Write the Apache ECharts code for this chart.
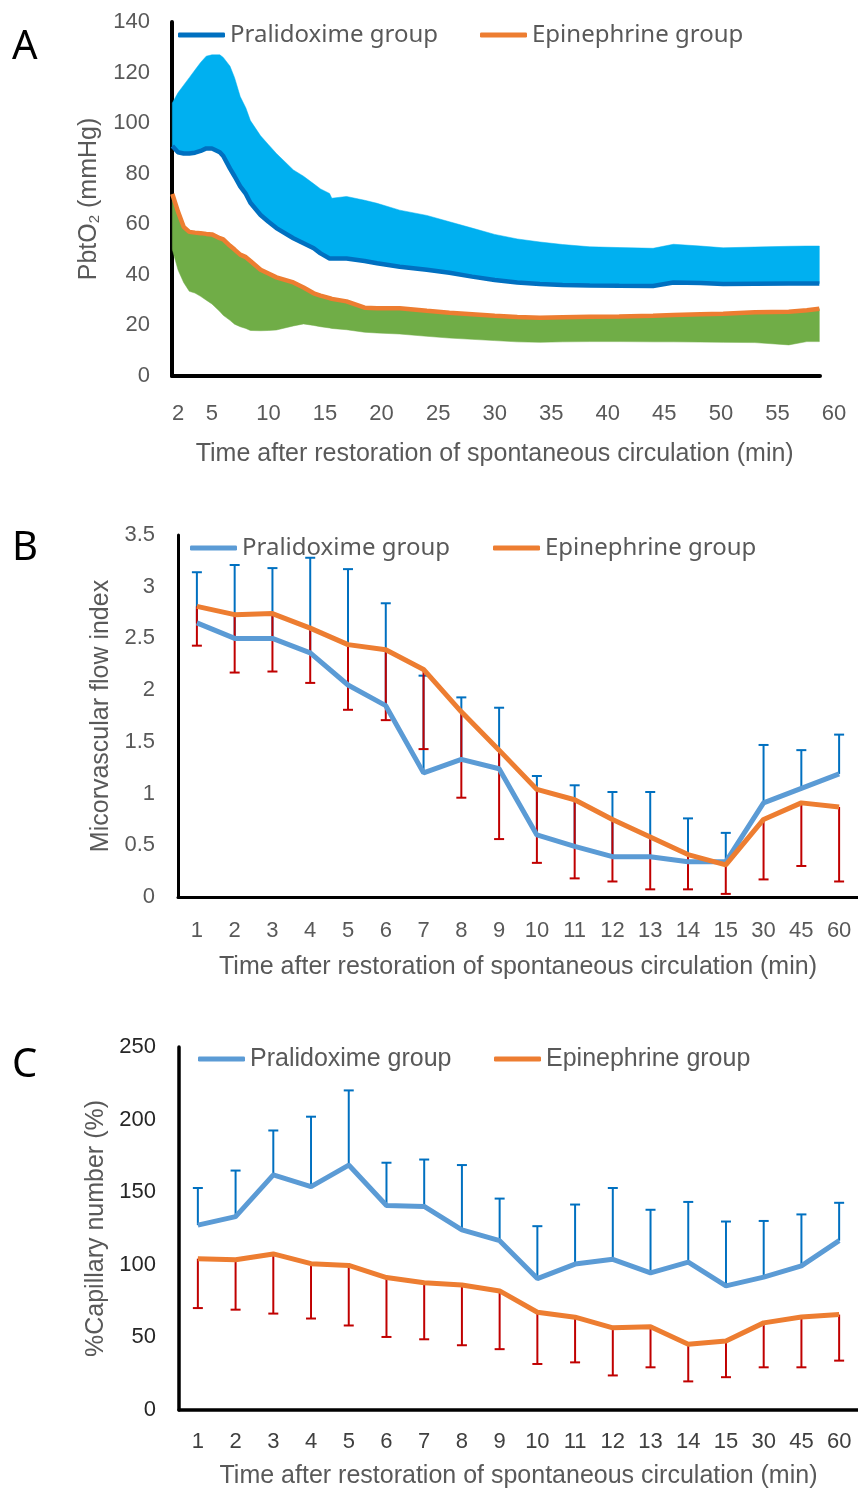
<!DOCTYPE html>
<html>
<head>
<meta charset="utf-8">
<script src="https://cdn.jsdelivr.net/npm/echarts@6/dist/echarts.min.js"></script>
<style>
html,body{margin:0;padding:0;background:#fff;}
#chart{width:858px;height:1490px;}
</style>
</head>
<body>
<div id="chart"></div>
<script>
// ---------- Panel A data (minutes after ROSC) ----------
const timeA      = [1.5, 2, 2.5, 3, 3.5, 4, 4.5, 5, 5.7, 6, 6.6, 7, 7.5, 8, 8.4, 9.3, 10, 10.7, 12.2, 13.1, 14, 14.6, 15.4, 15.6, 16.9, 18.5, 19.6, 21.6, 24, 26, 28, 30, 32, 34, 36, 38.4, 41, 44, 45.8, 48.2, 50.2, 53, 56, 57.6, 58.7];
const pralMeanA  = [91, 88.5, 88, 88, 88.3, 89, 90, 90, 88.5, 87, 82, 79, 75, 72, 68.5, 63.7, 61, 58.5, 54.5, 52.5, 50.5, 48.5, 46.5, 46.5, 46.5, 45.5, 44.6, 43.2, 42, 40.8, 39.3, 38, 37, 36.4, 36, 35.8, 35.7, 35.6, 37, 36.8, 36.4, 36.5, 36.6, 36.6, 36.6];
const pralUpperA = [108, 112, 115, 118, 121, 124, 126.5, 127, 127, 126, 122.5, 118, 110.5, 106, 101, 95, 91.5, 88, 81.5, 79, 76, 74, 72.2, 70.3, 71, 69.5, 68.3, 65.6, 63.5, 61, 58.5, 56, 54.2, 53, 52, 51.1, 50.8, 50.5, 52.1, 51.4, 50.7, 51, 51.3, 51.4, 51.4];
const epiMeanA   = [72, 65, 59, 57, 56.7, 56.5, 56.2, 56, 54.5, 54, 51.5, 50, 48, 47, 45.5, 42, 40.5, 39, 37, 35, 32.7, 31.8, 30.8, 30.5, 29.5, 27, 26.8, 26.8, 25.8, 25, 24.4, 23.8, 23.3, 23, 23.2, 23.4, 23.5, 23.8, 24.1, 24.4, 24.6, 25.2, 25.4, 26, 26.6];
const epiLowerA  = [50, 42, 37, 33.5, 32.8, 31.5, 30, 28.5, 25.5, 24, 22, 20.5, 19.5, 18.8, 18, 17.9, 18, 18.2, 19.8, 20.6, 20, 19.5, 19, 18.8, 18.3, 17.3, 17, 16.6, 15.7, 15, 14.5, 14, 13.5, 13.3, 13.5, 13.6, 13.6, 13.5, 13.5, 13.4, 13.3, 13.2, 12.3, 13.6, 13.6];
const tickLabelsA = [2, 5, 10, 15, 20, 25, 30, 35, 40, 45, 50, 55, 60];

// ---------- Panels B & C categories ----------
const categories = ['1','2','3','4','5','6','7','8','9','10','11','12','13','14','15','30','45','60'];

// ---------- Panel B: microvascular flow index ----------
const pralB    = [2.65, 2.50, 2.50, 2.36, 2.05, 1.85, 1.20, 1.33, 1.24, 0.60, 0.49, 0.39, 0.39, 0.34, 0.34, 0.91, 1.05, 1.19];
const pralBUp  = [3.14, 3.21, 3.18, 3.28, 3.17, 2.84, 2.14, 1.93, 1.83, 1.17, 1.08, 1.015, 1.015, 0.76, 0.62, 1.47, 1.42, 1.57];
const epiB     = [2.81, 2.73, 2.74, 2.60, 2.44, 2.39, 2.20, 1.79, 1.42, 1.04, 0.94, 0.75, 0.58, 0.41, 0.31, 0.75, 0.91, 0.87];
const epiBLow  = [2.43, 2.17, 2.18, 2.07, 1.81, 1.71, 1.43, 0.96, 0.56, 0.33, 0.18, 0.15, 0.074, 0.074, 0.03, 0.17, 0.30, 0.15];

// ---------- Panel C: % capillary number ----------
const pralC    = [127.3, 133.2, 161.9, 153.8, 168.7, 140.8, 140.2, 124.1, 116.6, 90.5, 100.5, 103.8, 94.5, 101.9, 85.5, 91.5, 99.3, 116.6];
const pralCUp  = [152.9, 164.9, 192.5, 202, 220.1, 170.3, 172.5, 168.7, 145.6, 126.6, 141.5, 152.9, 137.9, 143.3, 129.8, 130.2, 134.7, 142.7];
const epiC     = [104.2, 103.5, 107.5, 100.8, 99.6, 91.2, 87.6, 86.1, 82, 67.3, 63.9, 56.6, 57.3, 45.3, 47.6, 60, 64.1, 65.7];
const epiCLow  = [70.2, 69.1, 66.4, 63, 58.2, 50.3, 48.7, 44.6, 41.9, 31.7, 32.8, 23.8, 29.4, 19.7, 22.6, 29.4, 29.4, 34];

// ---------- styling ----------
const SANS = 'Liberation Sans, Arial, sans-serif';
const LEG = 'Noto Sans, sans-serif';
const GREY = '#595959';
const PRAL_DARK = '#0070C0', PRAL_BAND = '#00B0F0', PRAL_LINE = '#5B9BD5';
const EPI = '#ED7D31', EPI_BAND = '#70AD47', RED = '#C00000';

const chart = echarts.init(document.getElementById('chart'), null, {renderer: 'canvas'});

function pairs(xs, ys) { return xs.map((x, i) => [x, ys[i]]); }
function errData(mean, end) { return mean.map((m, i) => [i, m, end[i]]); }
function errSeries(name, xIdx, yIdx, data, color) {
  return {
    type: 'custom', name: name, xAxisIndex: xIdx, yAxisIndex: yIdx, z: 1, silent: true,
    encode: {x: 0, y: [1, 2]},
    data: data,
    renderItem: function (params, api) {
      const p0 = api.coord([api.value(0), api.value(1)]);
      const p1 = api.coord([api.value(0), api.value(2)]);
      const st = {stroke: color, lineWidth: 2};
      return {type: 'group', children: [
        {type: 'line', shape: {x1: p0[0], y1: p0[1], x2: p1[0], y2: p1[1]}, style: st},
        {type: 'line', shape: {x1: p1[0] - 5, y1: p1[1], x2: p1[0] + 5, y2: p1[1]}, style: st}
      ]};
    }
  };
}
// band between two curves, drawn as one polygon through the axis scales
function bandSeries(name, xs, lo, hi, color) {
  return {
    type: 'custom', name: name, xAxisIndex: 0, yAxisIndex: 0, z: 2, silent: true,
    encode: {x: 0, y: [1, 2]},
    data: xs.map((x, i) => [x, lo[i], hi[i]]),
    renderItem: function (params, api) {
      if (params.dataIndex !== 0) return null;
      const pts = [];
      for (let i = 0; i < xs.length; i++) pts.push(api.coord([xs[i], hi[i]]));
      for (let i = xs.length - 1; i >= 0; i--) pts.push(api.coord([xs[i], lo[i]]));
      return {type: 'polygon', shape: {points: pts}, style: {fill: color, stroke: color, lineWidth: 0.5}};
    }
  };
}
function legendItem(name, color, left, top, font, size) {
  return {
    data: [{name: name, itemStyle: {color: color}}],
    left: left, top: top, padding: 0, icon: 'roundRect', itemWidth: 47, itemHeight: 5,
    selectedMode: false,
    textStyle: {color: GREY, fontFamily: font, fontSize: size, lineHeight: 28}
  };
}
const blackAxis = w => ({show: true, onZero: false, lineStyle: {color: '#000', width: w}});

const option = {
  backgroundColor: '#fff',
  animation: false,
  graphic: [
    {type: 'text', left: 12, top: 28, style: {text: 'A', fontSize: 40, fontFamily: LEG, fill: '#000'}},
    {type: 'text', left: 12, top: 529, style: {text: 'B', fontSize: 40, fontFamily: LEG, fill: '#000'}},
    {type: 'text', left: 12, top: 1046, style: {text: 'C', fontSize: 40, fontFamily: LEG, fill: '#000'}}
  ],
  legend: [
    legendItem('Pralidoxime group', PRAL_DARK, 178, 21, LEG, 24),
    legendItem('Epinephrine group', EPI, 480, 21, LEG, 24),
    legendItem('Pralidoxime group', PRAL_LINE, 190, 534, LEG, 24),
    legendItem('Epinephrine group', EPI, 493, 534, LEG, 24),
    legendItem('Pralidoxime group', PRAL_LINE, 198, 1045, SANS, 25),
    legendItem('Epinephrine group', EPI, 494, 1045, SANS, 25)
  ],
  grid: [
    {left: 172, top: 22, width: 648, height: 354},          // A data
    {left: 155.4, top: 22, width: 678.6, height: 354},      // A tick labels (0..60)
    {left: 178, top: 535, width: 684, height: 362},         // B
    {left: 179, top: 1047, width: 684, height: 368}         // C
  ],
  xAxis: [
    {gridIndex: 0, type: 'value', min: 1.47, max: 58.76, axisLine: blackAxis(4),
     axisTick: {show: false}, axisLabel: {show: false}, splitLine: {show: false}},
    {gridIndex: 1, type: 'value', min: 0, max: 60, axisLine: {show: false}, axisTick: {show: false},
     splitLine: {show: false},
     axisLabel: {customValues: tickLabelsA, margin: 27, color: GREY, fontFamily: SANS, fontSize: 22},
     name: 'Time after restoration of spontaneous circulation (min)', nameLocation: 'middle', nameGap: 66,
     nameTextStyle: {color: GREY, fontFamily: SANS, fontSize: 25}},
    {gridIndex: 2, type: 'category', data: categories, boundaryGap: true, axisLine: blackAxis(3),
     axisTick: {show: false}, splitLine: {show: false},
     axisLabel: {margin: 23, color: GREY, fontFamily: SANS, fontSize: 22, interval: 0},
     name: 'Time after restoration of spontaneous circulation (min)', nameLocation: 'middle', nameGap: 58,
     nameTextStyle: {color: GREY, fontFamily: SANS, fontSize: 25}},
    {gridIndex: 3, type: 'category', data: categories, boundaryGap: true, axisLine: blackAxis(3.5),
     axisTick: {show: false}, splitLine: {show: false},
     axisLabel: {margin: 21, color: '#404040', fontFamily: SANS, fontSize: 22, interval: 0},
     name: 'Time after restoration of spontaneous circulation (min)', nameLocation: 'middle', nameGap: 54,
     nameTextStyle: {color: GREY, fontFamily: SANS, fontSize: 25}}
  ],
  yAxis: [
    {gridIndex: 0, type: 'value', min: 0, max: 140, interval: 20, axisLine: blackAxis(4),
     axisTick: {show: false}, splitLine: {show: false},
     axisLabel: {margin: 22, color: GREY, fontFamily: SANS, fontSize: 22},
     name: 'PbtO{sub|2} (mmHg)', nameLocation: 'middle', nameGap: 70,
     nameTextStyle: {color: GREY, fontFamily: SANS, fontSize: 25,
       rich: {sub: {fontSize: 15, color: GREY, fontFamily: SANS, padding: [10, 0, 0, 0]}}}},
    {gridIndex: 1, type: 'value', min: 0, max: 140, show: false},
    {gridIndex: 2, type: 'value', min: 0, max: 3.5, interval: 0.5, axisLine: blackAxis(3),
     axisTick: {show: false}, splitLine: {show: false},
     axisLabel: {margin: 23, color: GREY, fontFamily: SANS, fontSize: 22},
     name: 'Micorvascular flow index', nameLocation: 'middle', nameGap: 64,
     nameTextStyle: {color: GREY, fontFamily: SANS, fontSize: 25}},
    {gridIndex: 3, type: 'value', min: 0, max: 250, interval: 50, axisLine: blackAxis(3.5),
     axisTick: {show: false}, splitLine: {show: false},
     axisLabel: {margin: 23, color: '#262626', fontFamily: SANS, fontSize: 22},
     name: '%Capillary number (%)', nameLocation: 'middle', nameGap: 65,
     nameTextStyle: {color: GREY, fontFamily: SANS, fontSize: 25}}
  ],
  series: [
    // ---- Panel A bands ----
    bandSeries('pA_band', timeA, pralMeanA, pralUpperA, PRAL_BAND),
    bandSeries('eA_band', timeA, epiLowerA, epiMeanA, EPI_BAND),
    {type: 'line', name: 'Pralidoxime group', xAxisIndex: 0, yAxisIndex: 0, symbol: 'none', z: 5,
     lineStyle: {color: PRAL_DARK, width: 4.5}, itemStyle: {color: PRAL_DARK}, data: pairs(timeA, pralMeanA)},
    {type: 'line', name: 'Epinephrine group', xAxisIndex: 0, yAxisIndex: 0, symbol: 'none', z: 5,
     lineStyle: {color: EPI, width: 4.5}, itemStyle: {color: EPI}, data: pairs(timeA, epiMeanA)},

    // ---- Panel B ----
    errSeries('pB_err', 2, 2, errData(pralB, pralBUp), PRAL_DARK),
    errSeries('eB_err', 2, 2, errData(epiB, epiBLow), RED),
    {type: 'line', name: 'Pralidoxime group', xAxisIndex: 2, yAxisIndex: 2, symbol: 'none', z: 4,
     lineStyle: {color: PRAL_LINE, width: 5}, itemStyle: {color: PRAL_LINE}, data: pralB},
    {type: 'line', name: 'Epinephrine group', xAxisIndex: 2, yAxisIndex: 2, symbol: 'none', z: 5,
     lineStyle: {color: EPI, width: 5}, itemStyle: {color: EPI}, data: epiB},

    // ---- Panel C ----
    errSeries('pC_err', 3, 3, errData(pralC, pralCUp), PRAL_DARK),
    errSeries('eC_err', 3, 3, errData(epiC, epiCLow), RED),
    {type: 'line', name: 'Pralidoxime group', xAxisIndex: 3, yAxisIndex: 3, symbol: 'none', z: 4,
     lineStyle: {color: PRAL_LINE, width: 5}, itemStyle: {color: PRAL_LINE}, data: pralC},
    {type: 'line', name: 'Epinephrine group', xAxisIndex: 3, yAxisIndex: 3, symbol: 'none', z: 5,
     lineStyle: {color: EPI, width: 5}, itemStyle: {color: EPI}, data: epiC}
  ]
};
chart.setOption(option);
</script>
</body>
</html>
